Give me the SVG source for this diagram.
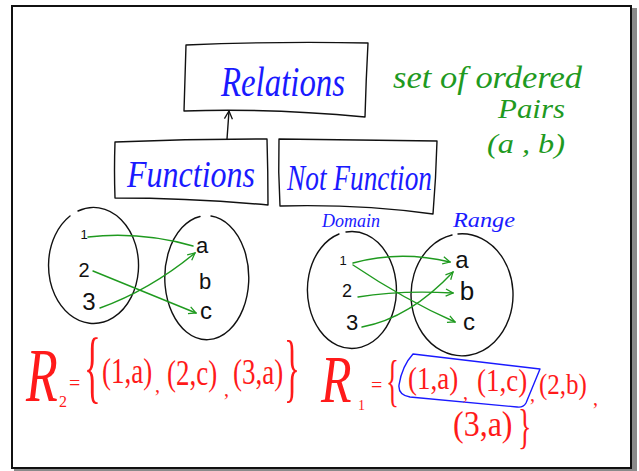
<svg xmlns="http://www.w3.org/2000/svg" width="639" height="471" viewBox="0 0 639 471">
<defs>
<style>
.ink{fill:none;stroke:#111;stroke-width:1.4;stroke-linecap:round;stroke-linejoin:round}
.gr{fill:none;stroke:#1f9a1f;stroke-width:1.4;stroke-linecap:round}
.hb{font-family:"Liberation Serif",serif;font-style:italic;fill:#1a1aff}
.hg{font-family:"Liberation Serif",serif;font-style:italic;fill:#1f9a1f}
.hk{font-family:"Liberation Sans",sans-serif;fill:#111;text-anchor:middle}
.hr{font-family:"Liberation Serif",serif;fill:#ff1a1a}
.hri{font-family:"Liberation Serif",serif;font-style:italic;fill:#ff1a1a}
</style>
<marker id="ga" viewBox="0 0 10 10" refX="9" refY="5" markerWidth="9" markerHeight="9" markerUnits="userSpaceOnUse" orient="auto">
<path d="M1,1 L9,5 L1,9" fill="none" stroke="#1f9a1f" stroke-width="1.4"/>
</marker>
<marker id="ka" viewBox="0 0 10 10" refX="9" refY="5" markerWidth="10" markerHeight="10" markerUnits="userSpaceOnUse" orient="auto">
<path d="M1,1 L9,5 L1,9" fill="none" stroke="#111" stroke-width="1.3"/>
</marker>
</defs>

<g id="frame">
<rect x="14" y="8" width="623" height="463" fill="#8a8a8a"/>
<rect x="12" y="6" width="619" height="462" fill="#fff" stroke="#111" stroke-width="2"/>
</g>

<g id="relations">
<path class="ink" d="M186,45 Q280,41 368,43 Q366,80 365,117 Q270,108 184,111 Q185,78 186,45 Z"/>
<text class="hb" transform="translate(221,96) scale(1,1.3)" font-size="33" textLength="124" lengthAdjust="spacingAndGlyphs">Relations</text>
</g>

<g id="note">
<text class="hg" x="393" y="88" font-size="32" textLength="189" lengthAdjust="spacingAndGlyphs">set of ordered</text>
<text class="hg" x="498" y="118" font-size="28" textLength="67" lengthAdjust="spacingAndGlyphs">Pairs</text>
<text class="hg" x="487" y="153" font-size="28" textLength="78" lengthAdjust="spacingAndGlyphs">(a , b)</text>
</g>

<g id="functions">
<path class="ink" d="M115,142 Q190,139 267,139 Q268,172 268,205 Q190,198 115,198 Q114,170 115,142 Z"/>
<text class="hb" transform="translate(127,187) scale(1,1.2)" font-size="32" textLength="128" lengthAdjust="spacingAndGlyphs">Functions</text>
</g>

<g id="not-function">
<path class="ink" d="M280,206 Q278,172 279,139 Q360,140 437,141 Q436,178 433,214 Q360,204 281,206"/>
<text class="hb" transform="translate(287,190) scale(1,1.3)" font-size="27" textLength="145" lengthAdjust="spacingAndGlyphs">Not Function</text>
</g>

<g id="left-domain">
<path class="ink" d="M78,211 A45,58 0 1 1 70,216"/>
<text class="hk" x="84" y="239" font-size="13">1</text>
<text class="hk" x="84" y="277" font-size="20">2</text>
<text class="hk" x="89" y="310" font-size="24">3</text>
</g>
<g id="left-range">
<path class="ink" d="M211,216 A42,62 0 1 1 200,216.5"/>
<text class="hk" x="202" y="253" font-size="22">a</text>
<text class="hk" x="205" y="289" font-size="22">b</text>
<text class="hk" x="206" y="319" font-size="24">c</text>
</g>

<g id="right-domain">
<text class="hb" x="322" y="227" font-size="18" textLength="58" lengthAdjust="spacingAndGlyphs">Domain</text>
<path class="ink" d="M346,232 A44.5,58.5 0 1 1 339,234"/>
<text class="hk" x="343" y="265" font-size="13">1</text>
<text class="hk" x="347" y="297" font-size="18">2</text>
<text class="hk" x="352" y="330" font-size="22">3</text>
</g>
<g id="right-range">
<text class="hb" x="453" y="227" font-size="22" textLength="62" lengthAdjust="spacingAndGlyphs">Range</text>
<path class="ink" d="M458,234 A51,61 0 1 1 452,235"/>
<text class="hk" x="462" y="268" font-size="24">a</text>
<text class="hk" x="467" y="300" font-size="26">b</text>
<text class="hk" x="469" y="330" font-size="24">c</text>
</g>

<g id="connectors">
<path class="ink" d="M227,139 L229,111" marker-end="url(#ka)"/>
<path class="gr" d="M88,237 Q140,231 193,246"/>
<path class="gr" d="M93,271 L196,313" marker-end="url(#ga)"/>
<path class="gr" d="M100,308 Q150,290 195,253" marker-end="url(#ga)"/>
<path class="gr" d="M353,263 Q400,250 450,262" marker-end="url(#ga)"/>
<path class="gr" d="M353,265 Q405,300 455,322" marker-end="url(#ga)"/>
<path class="gr" d="M358,297 Q400,290 453,293" marker-end="url(#ga)"/>
<path class="gr" d="M362,327 Q410,318 453,272" marker-end="url(#ga)"/>
</g>

<g id="r2">
<text class="hri" transform="translate(26,401) scale(1,1.45)" font-size="52">R</text>
<text class="hr" x="59" y="407" font-size="16">2</text>
<text class="hr" x="69" y="390" font-size="20">=</text>
<text class="hr" transform="translate(84,393) scale(1,2.3)" font-size="35">{</text>
<text class="hr" transform="translate(102,383) scale(1,1.3)" font-size="27">(1,a)</text>
<text class="hr" x="155" y="392" font-size="20">,</text>
<text class="hr" transform="translate(167,385) scale(1,1.3)" font-size="27">(2,c)</text>
<text class="hr" x="224" y="396" font-size="20">,</text>
<text class="hr" transform="translate(233,384) scale(1,1.3)" font-size="27">(3,a)</text>
<text class="hr" transform="translate(284,393) scale(1,2.3)" font-size="33">}</text>
</g>

<g id="r1">
<text class="hri" transform="translate(321,402) scale(1,1.35)" font-size="50">R</text>
<text class="hr" x="358" y="410" font-size="14">1</text>
<text class="hr" x="371" y="392" font-size="20">=</text>
<text class="hr" transform="translate(386,400) scale(1,2.1)" font-size="27">{</text>
<path d="M413,354 L540,369 L526,403 Q523,408 517,407 L410,397 Q398,395 399,385 Q402,366 413,354 Z" fill="none" stroke="#1a1aff" stroke-width="1.4" stroke-linejoin="round"/>
<text class="hr" transform="translate(408,389) scale(1,1.2)" font-size="27">(1,a)</text>
<text class="hr" x="463" y="399" font-size="20">,</text>
<text class="hr" transform="translate(477,391) scale(1,1.2)" font-size="27">(1,c)</text>
<text class="hr" x="530" y="401" font-size="20">,</text>
<text class="hr" transform="translate(539,394) scale(1,1.2)" font-size="25">(2,b)</text>
<text class="hr" x="593" y="405" font-size="20">,</text>
<text class="hr" transform="translate(453,436) scale(1,1.15)" font-size="32">(3,a)</text>
<text class="hr" transform="translate(518,443) scale(1,1.7)" font-size="28">}</text>
</g>
</svg>
